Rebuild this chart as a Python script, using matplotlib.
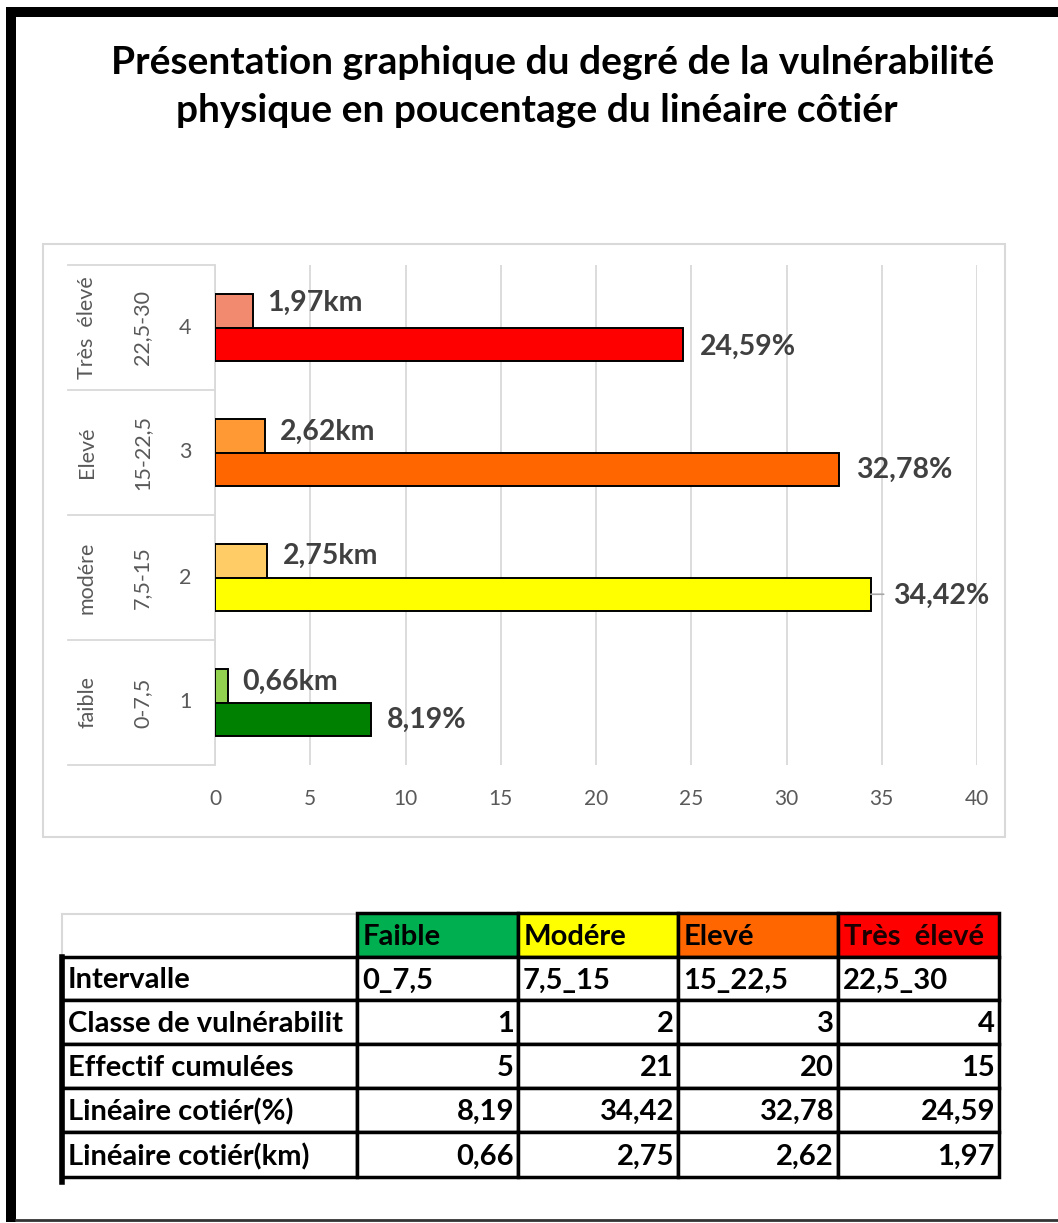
import matplotlib
matplotlib.use("Agg")
import matplotlib.pyplot as plt
from matplotlib.patches import Rectangle
from matplotlib.transforms import blended_transform_factory

plt.rcParams['font.family'] = ['Lato', 'DejaVu Sans']

# ---- data ----
classes = [1, 2, 3, 4]
axis_names = ['faible', 'modére', 'Elevé', 'Très  élevé']
axis_intervals = ['0-7,5', '7,5-15', '15-22,5', '22,5-30']
pct_values = [8.19, 34.42, 32.78, 24.59]
km_values = [0.66, 2.75, 2.62, 1.97]
effectif = [5, 21, 20, 15]
table_headers = ['Faible', 'Modére', 'Elevé', 'Très  élevé']
table_intervals = ['0_7,5', '7,5_15', '15_22,5', '22,5_30']
row_labels = ['Intervalle', 'Classe de vulnérabilit', 'Effectif cumulées',
              'Linéaire cotiér(%)', 'Linéaire cotiér(km)']
x_ticks = [0, 5, 10, 15, 20, 25, 30, 35, 40]

pct_colors = ['#008000', '#FFFF00', '#FF6600', '#FF0000']
km_colors = ['#92D050', '#FFCC66', '#FF9933', '#F28A70']
header_colors = ['#00B050', '#FFFF00', '#FF6600', '#FF0000']


def fr(v):
    return f"{v:.2f}".replace('.', ',')


W, H = 1058, 1223
fig = plt.figure(figsize=(W / 100, H / 100), dpi=100)
fig.patch.set_facecolor('white')

# pixel-space overlay for frame, chart box and table
ov = fig.add_axes([0, 0, 1, 1])
ov.set_xlim(0, W)
ov.set_ylim(H, 0)
ov.axis('off')
ov.set_zorder(0)

# outer frame
ov.add_patch(Rectangle((6, 7), 10, 1215, color='black', lw=0))
ov.add_patch(Rectangle((6, 7), W - 6, 10, color='black', lw=0))
ov.plot([16, W], [1220, 1220], color='#333333', lw=2)

# title
ov.text(553, 62, 'Présentation graphique du degré de la vulnérabilité',
        ha='center', va='center', fontsize=28, fontweight='bold', color='black')
ov.text(537, 110, 'physique en poucentage du linéaire côtiér',
        ha='center', va='center', fontsize=28, fontweight='bold', color='black')

# chart box
ov.add_patch(Rectangle((43, 244), 962, 593, fill=False, ec='#D9D9D9', lw=1.5))

# ---- bar chart ----
left_px, right_px, top_px, bot_px = 215, 977, 265, 765
ax = fig.add_axes([left_px / W, 1 - bot_px / H, (right_px - left_px) / W, (bot_px - top_px) / H])
ax.set_zorder(1)
ax.set_facecolor('none')
ax.set_xlim(0, 40)
ax.set_ylim(0.5, 4.5)
bh = 0.268
ax.barh([c + bh / 2 for c in classes], km_values, height=bh, color=km_colors,
        edgecolor='black', linewidth=1.4, zorder=3)
ax.barh([c - bh / 2 for c in classes], pct_values, height=bh, color=pct_colors,
        edgecolor='black', linewidth=1.4, zorder=3)

ax.set_xticks(x_ticks)
ax.set_xticklabels([str(t) for t in x_ticks], fontsize=15, color='#595959')
ax.tick_params(axis='x', length=0, pad=17)
ax.set_yticks([])
ax.grid(axis='x', color='#D9D9D9', lw=1.3, zorder=0)
for s in ['top', 'right', 'bottom']:
    ax.spines[s].set_visible(False)
ax.spines['left'].set_color('#D9D9D9')
ax.spines['left'].set_linewidth(1.3)

lab_kw = dict(fontsize=20.5, fontweight='bold', color='#404040', va='center', ha='left',
              textcoords='offset pixels', annotation_clip=False)
km_shift = [4, 5, 4, 8]
pct_shift = [-1, -2, -1, -3]
pct_dx = [16, 22, 17, 16]
for i, c in enumerate(classes):
    ax.annotate(fr(km_values[i]) + 'km', xy=(km_values[i], c + bh / 2),
                xytext=(15, km_shift[i]), **lab_kw)
    ax.annotate(fr(pct_values[i]) + '%', xy=(pct_values[i], c - bh / 2),
                xytext=(pct_dx[i], pct_shift[i]), **lab_kw)
# leader line of the displaced label
i2 = 1
ax.annotate('', xy=(pct_values[i2], classes[i2] - bh / 2), xytext=(13, 0),
            textcoords='offset pixels',
            arrowprops=dict(arrowstyle='-', color='#A6A6A6', lw=1.2,
                            shrinkA=0, shrinkB=0), annotation_clip=False)

# multi-level category axis
tr = blended_transform_factory(ov.transData, ax.transData)
for b in [0.5, 1.5, 2.5, 3.5, 4.5]:
    ax.plot([68, 214], [b, b], transform=tr, color='#D9D9D9', lw=1.3, clip_on=False)
for i, c in enumerate(classes):
    ax.text(87, c, axis_names[i], transform=tr, rotation=90, ha='center', va='center',
            fontsize=15.5, color='#595959')
    ax.text(142, c, axis_intervals[i], transform=tr, rotation=90, ha='center', va='center',
            fontsize=15.5, color='#595959')
    ax.text(185, c, str(c), transform=tr, ha='center', va='center',
            fontsize=15.5, color='#595959')

# ---- table ----
col_x = [62, 357, 518, 678, 838, 999]
row_y = [913, 957, 1000, 1044, 1088, 1132, 1177]
tfs = 21

# header
ov.plot([62, 357], [914, 914], color='#D9D9D9', lw=1.5)
ov.plot([62, 62], [914, 957], color='#D9D9D9', lw=1.5)
for j in range(4):
    ov.add_patch(Rectangle((col_x[j + 1], row_y[0]), col_x[j + 2] - col_x[j + 1],
                           row_y[1] - row_y[0], facecolor=header_colors[j],
                           edgecolor='black', lw=2.5, zorder=2))
    ov.text(col_x[j + 1] + 6, (row_y[0] + row_y[1]) / 2 + 2, table_headers[j],
            ha='left', va='center', fontsize=tfs, fontweight='bold',
            color='#1a0000' if j == 3 else 'black', zorder=3)

cells = [
    table_intervals,
    [str(c) for c in classes],
    [str(e) for e in effectif],
    [fr(v) for v in pct_values],
    [fr(v) for v in km_values],
]
for r in range(5):
    y0, y1 = row_y[r + 1], row_y[r + 2]
    yc = (y0 + y1) / 2 + 2
    cell = Rectangle((col_x[0], y0), col_x[1] - col_x[0], y1 - y0,
                     facecolor='white', edgecolor='black', lw=2.5, zorder=2)
    ov.add_patch(cell)
    t = ov.text(col_x[0] + 6, yc, row_labels[r], ha='left', va='center', fontsize=tfs,
                fontweight='bold', color='black', zorder=3)
    t.set_clip_path(cell)
    for j in range(4):
        ov.add_patch(Rectangle((col_x[j + 1], y0), col_x[j + 2] - col_x[j + 1], y1 - y0,
                               facecolor='white', edgecolor='black', lw=2.5, zorder=2))
        if r == 0:
            ov.text(col_x[j + 1] + 5, yc, cells[r][j], ha='left', va='center',
                    fontsize=tfs, fontweight='bold', color='black', zorder=3)
        else:
            ov.text(col_x[j + 2] - 4, yc, cells[r][j], ha='right', va='center',
                    fontsize=tfs, fontweight='bold', color='black', zorder=3)
# thick left edge of the table body
ov.plot([62, 62], [957, 1182], color='black', lw=4, zorder=4)

fig.savefig('out.png', dpi=100, facecolor='white')
